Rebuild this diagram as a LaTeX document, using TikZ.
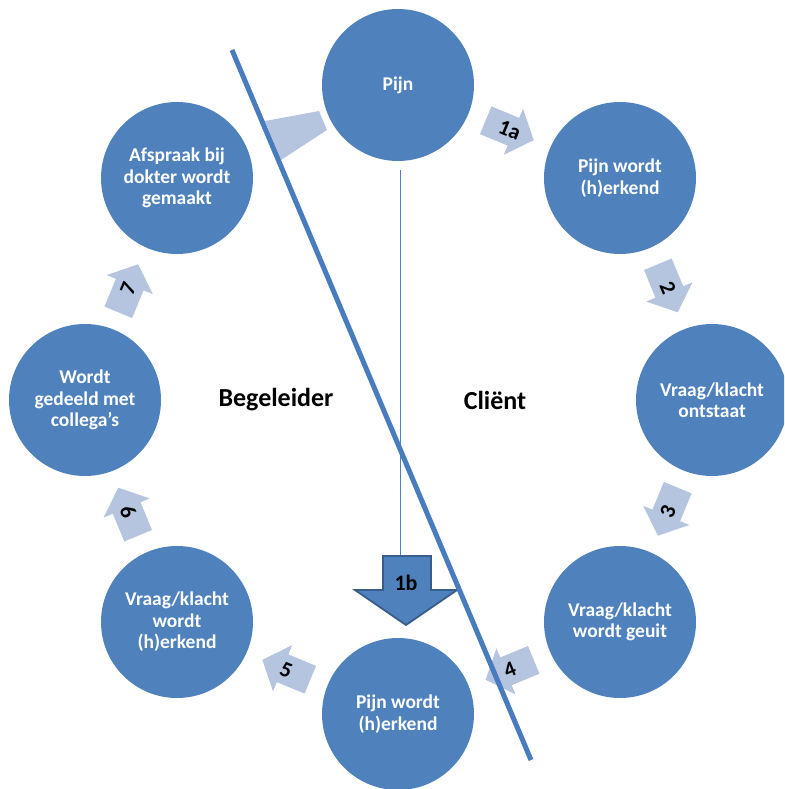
\documentclass[tikz,border=0pt]{standalone}
\usepackage{fontspec}
\setmainfont{Carlito}
\definecolor{circfill}{RGB}{79,129,189}
\definecolor{arrfill}{RGB}{181,197,224}
\definecolor{divcol}{RGB}{72,124,190}
\definecolor{darkblue}{RGB}{56,93,138}
\begin{document}
\begin{tikzpicture}[x=1pt,y=-1pt,
  bubble/.style={circle,fill=circfill,minimum size=152pt,inner sep=0pt,text=white,
    font=\bfseries\fontsize{19.5}{21.5}\selectfont,align=center},
  arrlabel/.style={font=\bfseries\fontsize{22}{24}\selectfont,text=black,inner sep=0pt},
  sidelabel/.style={font=\bfseries\fontsize{26}{30}\selectfont,text=black},
  divider/.style={draw=divcol,line width=5pt},
  thinline/.style={draw=circfill,line width=0.9pt},
  cyclearrow/.style={fill=arrfill}]
\useasboundingbox (0,0) rectangle (784,789);
\clip (0,0) rectangle (784,789);

% circles
\node[bubble] (pijn) at (398,85) {Pijn};
\node[bubble] (herk1) at (620,178) {Pijn wordt\\(h)erkend};
\node[bubble] (ontst) at (712,400) {Vraag/klacht\\ontstaat};
\node[bubble] (geuit) at (620,622) {Vraag/klacht\\wordt geuit};
\node[bubble] (herk2) at (398,714) {Pijn wordt\\(h)erkend};
\node[bubble] (vraagh) at (177,622) {Vraag/klacht\\wordt\\(h)erkend};
\node[bubble] (gedeeld) at (85,400) {Wordt\\gedeeld met\\collega’s};
\node[bubble] (afspraak) at (177,178) {Afspraak bij\\dokter wordt\\gemaakt};

% cycle arrows
\foreach \lab/\cx/\cy/\dir/\trot in {
  1a/509.7/130.2/-22.5/-22.5,
  2/667.8/288.3/-67.5/-67.5,
  3/667.8/511.7/-112.5/67.5,
  4/509.7/669.8/-157.5/22.5,
  5/286.3/669.8/157.5/-22.5,
  6/128.2/511.7/112.5/-67.5,
  7/128.2/288.3/67.5/67.5}{
  \begin{scope}[shift={(\cx,\cy)},rotate=\dir]
    \fill[cyclearrow] (-26,-15) -- (4,-15) -- (4,-25) -- (26,0) -- (4,25) -- (4,15) -- (-26,15) -- cycle;
  \end{scope}
  \node[arrlabel,rotate=\trot] (lab\lab) at (\cx,\cy) {\lab};
}
% arrow from Afspraak to Pijn (partially shown)
\fill[cyclearrow] (265,121) -- (319,111) -- (327,130) -- (281,160) -- cycle;

% vertical line and arrow 1b
\coordinate (vtop) at (400,170);
\coordinate (atop) at (400,556);
\draw[thinline] (vtop) -- (atop);
\draw[fill=circfill,draw=darkblue,line width=1.8pt,line join=miter]
  (383,556) -- (431,556) -- (431,590) -- (457,590) -- (406,625) -- (355,590) -- (383,590) -- cycle;
\node[arrlabel] (l1b) at (406,583) {1b};

% divider line
\coordinate (dtop) at (232,50);
\coordinate (dbot) at (531,760);
\draw[divider] (dtop) -- (dbot);

% side labels
\node[sidelabel] (beg) at (276,400) {Begeleider};
\node[sidelabel] (cli) at (495,400) {Cliënt};
\end{tikzpicture}
\end{document}
